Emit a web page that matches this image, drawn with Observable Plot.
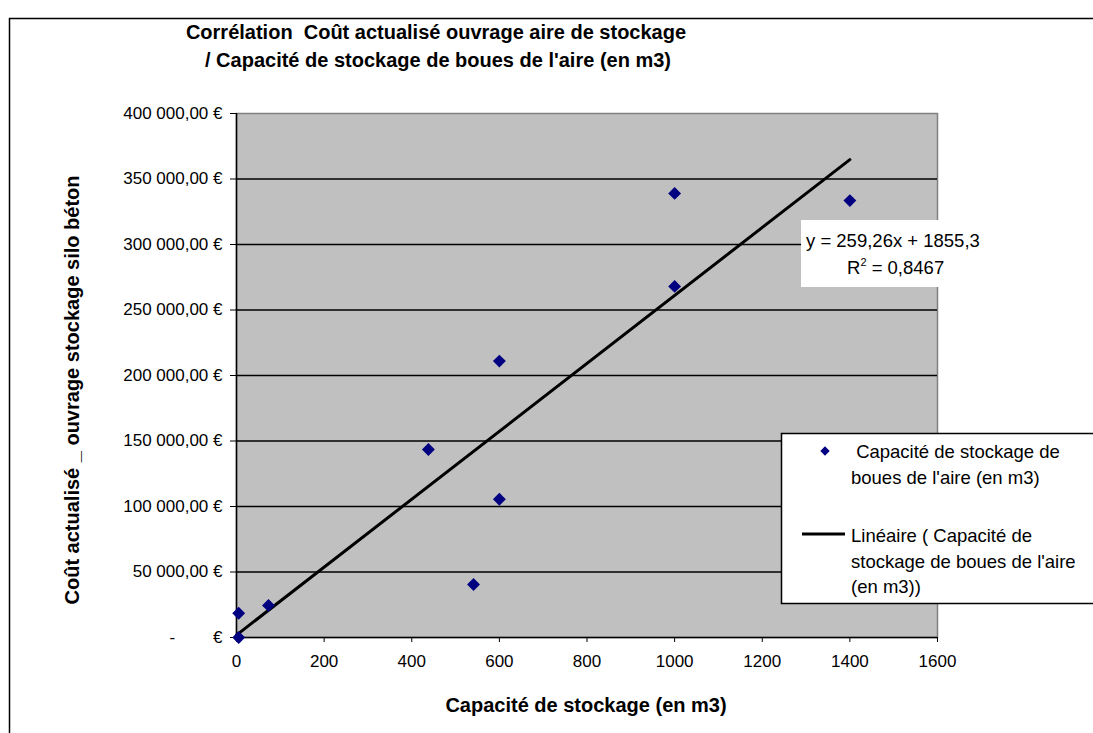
<!DOCTYPE html>
<html>
<head>
<meta charset="utf-8">
<script src="https://cdn.jsdelivr.net/npm/d3@7"></script>
<script src="https://cdn.jsdelivr.net/npm/@observablehq/plot@0.6"></script>
<style>
  html, body { margin: 0; padding: 0; background: white; }
  #chart { width: 1093px; height: 733px; overflow: hidden; }
</style>
</head>
<body>
<div id="chart"></div>
<script>
// ---- data ----
const capacity = [5, 5, 73, 541, 438, 600, 600, 1000, 1000, 1400];          // m3
const cost     = [0, 18500, 24500, 40500, 143500, 105500, 211000, 268000, 339000, 333500]; // €
const trendX = [0, 1400];
const trendY = [1855.3, 364819.3];   // y = 259,26x + 1855,3
const yTicks = [0, 50000, 100000, 150000, 200000, 250000, 300000, 350000, 400000];
const xTicks = [0, 200, 400, 600, 800, 1000, 1200, 1400, 1600];
const title1 = "Corrélation  Coût actualisé ouvrage aire de stockage";
const title2 = "/ Capacité de stockage de boues de l'aire (en m3)";
const xTitle = "Capacité de stockage (en m3)";
const yTitle = "Coût actualisé _ ouvrage stockage silo béton";
const eqText = "y = 259,26x + 1855,3";
const r2Text = "0,8467";
const legend1 = ["\u00a0Capacité de stockage de", "boues de l'aire (en m3)"];
const legend2 = ["Linéaire ( Capacité de", "stockage de boues de l'aire", "(en m3))"];

const points = capacity.map((c, i) => ({x: c, y: cost[i]}));
const trend = trendX.map((x, i) => ({x, y: trendY[i]}));

const fr = d3.formatLocale({decimal: ",", thousands: "\u00a0", grouping: [3], currency: ["", "\u00a0€"]});
const fmt = fr.format("$,.2f");
const yFmt = d => d === 0 ? "-\u00a0\u00a0\u00a0\u00a0\u00a0\u00a0\u00a0\u00a0€" : fmt(d);

const FONT = "Arial, 'Liberation Sans', sans-serif";

const plot = Plot.plot({
  width: 1093,
  height: 733,
  marginLeft: 236,
  marginRight: 156,
  marginTop: 113,
  marginBottom: 96,
  style: {fontFamily: FONT, fontSize: "17px", background: "white", color: "black", overflow: "visible"},
  x: {domain: [0, 1600]},
  y: {domain: [0, 400000]},
  marks: [
    Plot.frame({fill: "#c0c0c0", stroke: "#808080", strokeWidth: 1.5}),
    Plot.ruleY(yTicks.filter(d => d > 0 && d < 400000), {stroke: "black", strokeWidth: 1.5}),
    Plot.ruleX([0], {stroke: "black", strokeWidth: 1.5}),
    Plot.ruleY([0], {stroke: "black", strokeWidth: 1.5}),
    Plot.axisY({ticks: yTicks, tickFormat: yFmt, tickSize: 6, tickPadding: 8, label: null, fontSize: 17}),
    Plot.axisX({ticks: xTicks, tickFormat: d => String(d), tickSize: 5, tickPadding: 12, label: null, fontSize: 17}),
    Plot.line(trend, {x: "x", y: "y", stroke: "black", strokeWidth: 3}),
    Plot.dot(points, {x: "x", y: "y", symbol: "diamond2", r: 5.8, fill: "#000080", stroke: "none"})
  ]
});
document.getElementById("chart").appendChild(plot);

const svg = d3.select(plot);
// outer chart border
svg.append("rect").attr("x", 9.5).attr("y", 18.5).attr("width", 1200).attr("height", 900)
  .attr("fill", "none").attr("stroke", "black").attr("stroke-width", 1.5);

// title
const tg = svg.append("g").attr("font-family", FONT).attr("font-weight", "bold").attr("font-size", 20).attr("text-anchor", "middle");
tg.append("text").attr("x", 436).attr("y", 39).text(title1);
tg.append("text").attr("x", 438).attr("y", 67).text(title2);

// axis titles
svg.append("text").attr("x", 586).attr("y", 712).attr("text-anchor", "middle")
  .attr("font-family", FONT).attr("font-weight", "bold").attr("font-size", 20).text(xTitle);
svg.append("text").attr("transform", "translate(79,390) rotate(-90)").attr("text-anchor", "middle")
  .attr("font-family", FONT).attr("font-weight", "bold").attr("font-size", 20).text(yTitle);

// equation box
svg.append("rect").attr("x", 801).attr("y", 220).attr("width", 143).attr("height", 67).attr("fill", "white");
const eq = svg.append("g").attr("font-family", FONT).attr("font-size", 18.5).attr("text-anchor", "start");
eq.append("text").attr("x", 806).attr("y", 247).text(eqText);
const r2 = eq.append("text").attr("x", 847).attr("y", 274);
r2.append("tspan").text("R");
r2.append("tspan").attr("dy", -8).attr("font-size", 11).text("2");
r2.append("tspan").attr("dy", 8).text(" = " + r2Text);

// legend
svg.append("rect").attr("x", 781.5).attr("y", 433.5).attr("width", 330).attr("height", 170)
  .attr("fill", "white").attr("stroke", "black").attr("stroke-width", 1.5);
svg.append("path").attr("d", d3.symbol(d3.symbolDiamond2, Math.PI * 4.2 * 4.2)())
  .attr("transform", "translate(825,451)").attr("fill", "#000080");
svg.append("line").attr("x1", 802).attr("x2", 845).attr("y1", 534).attr("y2", 534)
  .attr("stroke", "black").attr("stroke-width", 3);
const lg = svg.append("g").attr("font-family", FONT).attr("font-size", 18.5).attr("text-anchor", "start");
legend1.forEach((t, i) => lg.append("text").attr("x", 851).attr("y", 458 + i * 25.5).text(t));
legend2.forEach((t, i) => lg.append("text").attr("x", 851).attr("y", 542 + i * 25.5).text(t));
</script>
</body>
</html>
